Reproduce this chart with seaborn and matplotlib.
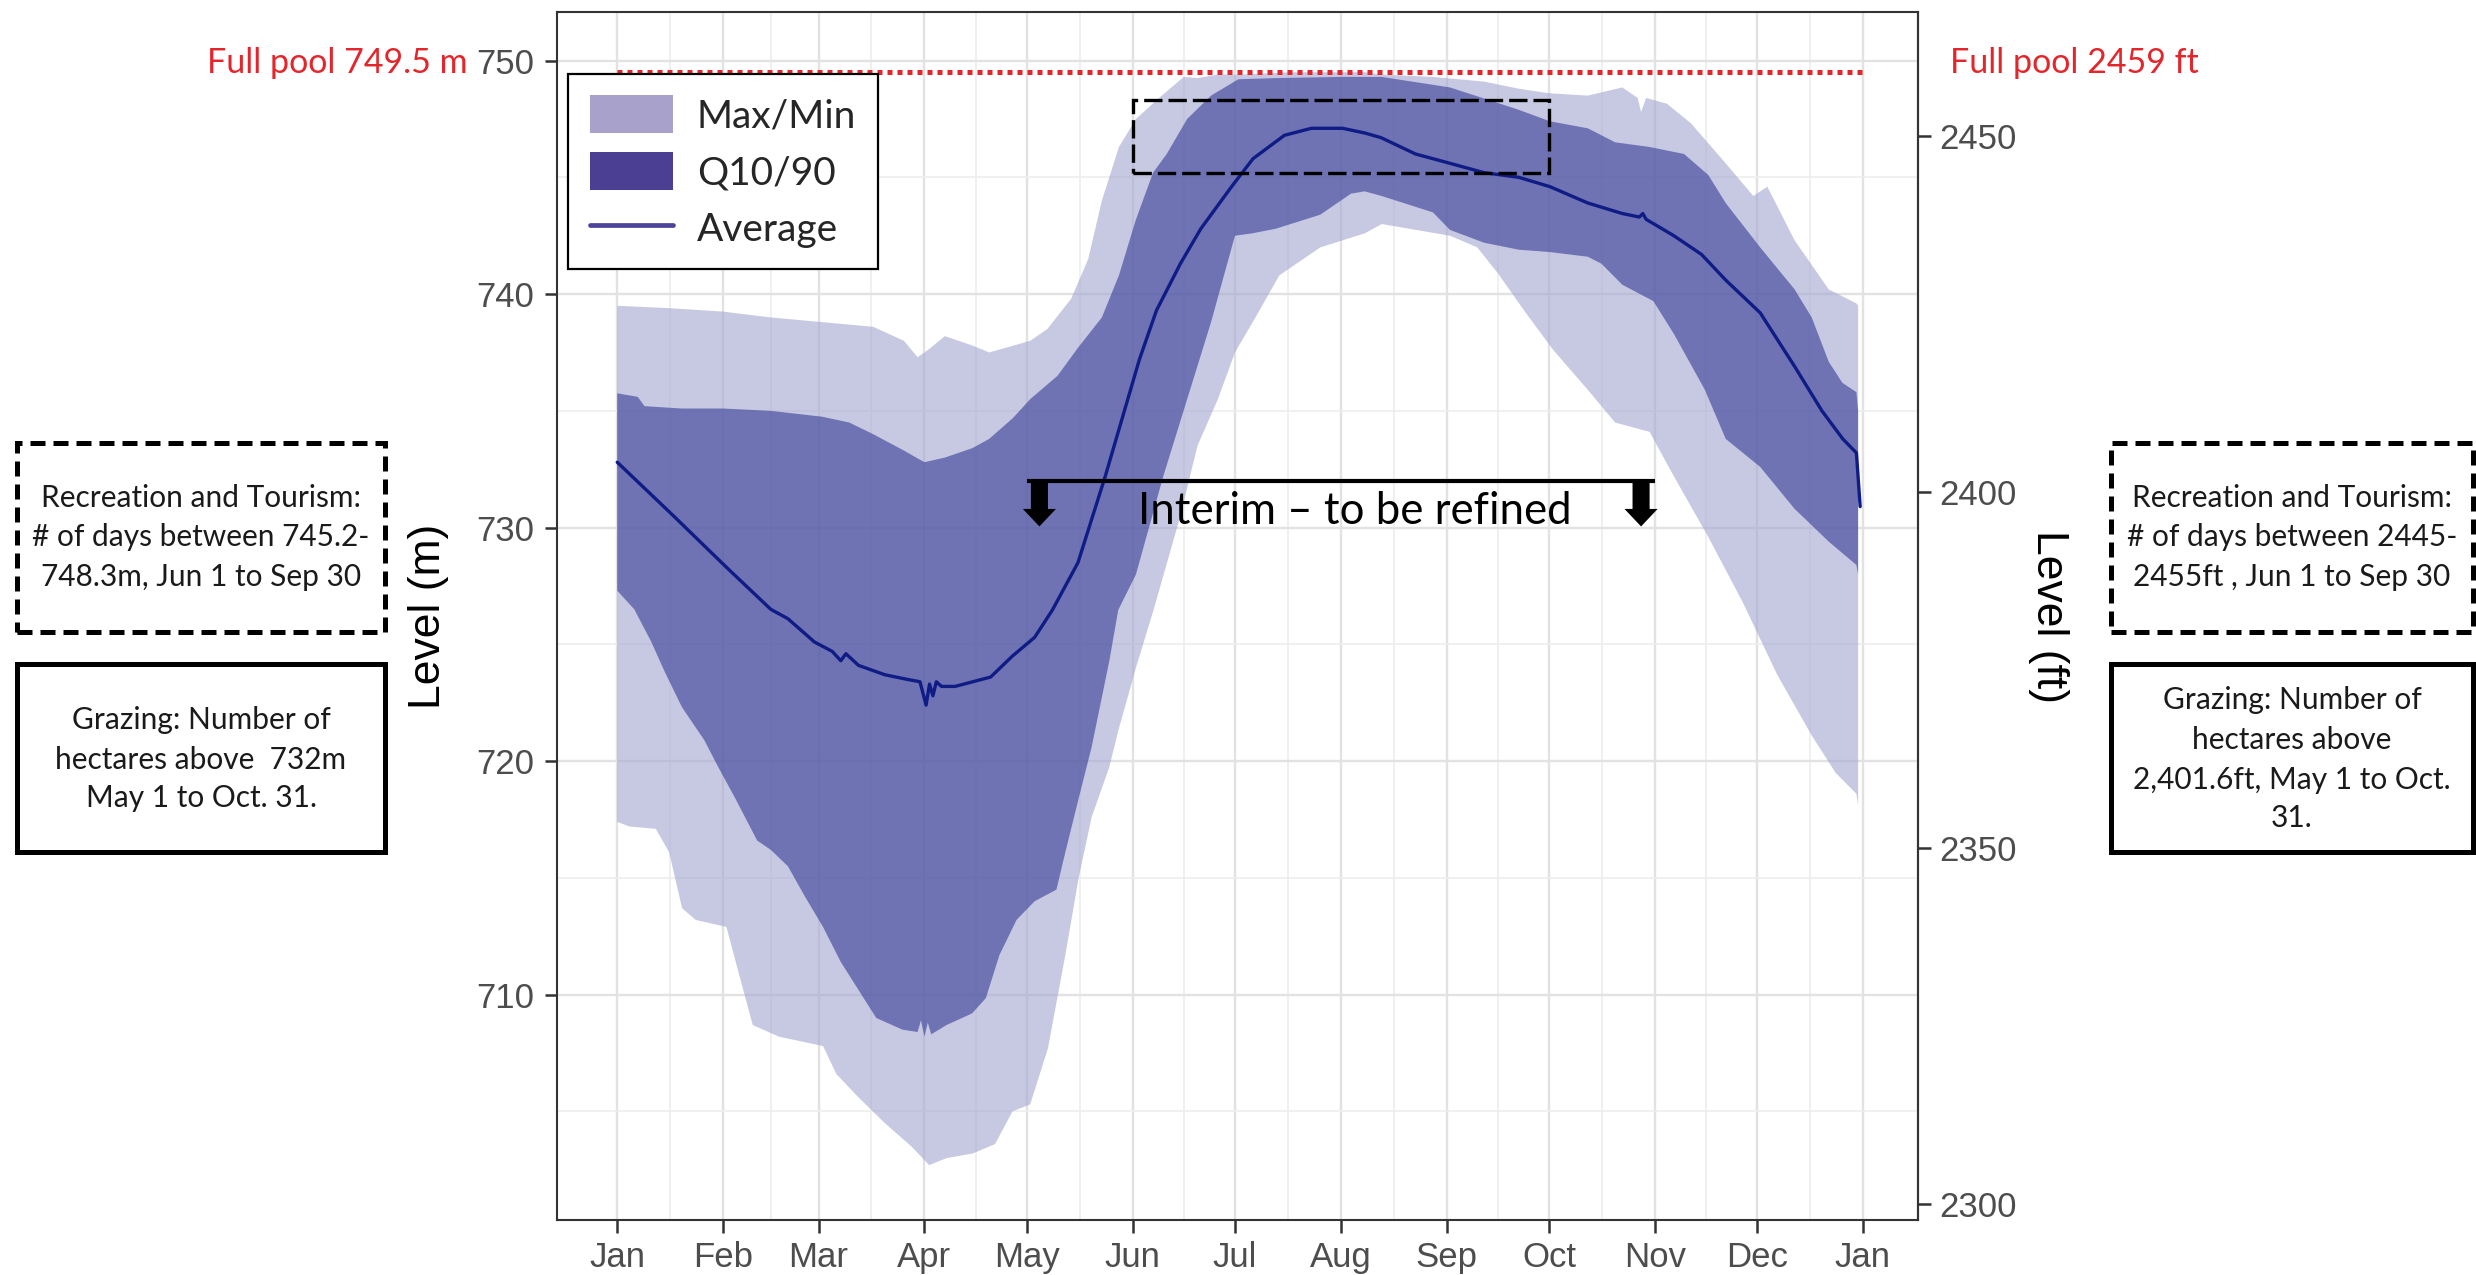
import numpy as np
import matplotlib
matplotlib.use("Agg")
import matplotlib.pyplot as plt
import seaborn as sns
from matplotlib.patches import Patch, Rectangle, FancyArrow
from matplotlib.lines import Line2D

# ---------------- data (day of year, level in metres) ----------------
max_days = [0, 15, 31, 45, 60, 75, 84, 88, 91, 96, 104, 109, 121, 126, 133, 138,
            142, 147, 152, 158, 166, 170, 176, 183, 197, 219, 224, 239, 254, 264,
            273, 284.4, 294.5, 299, 300, 301.5, 307.6, 314.7, 324.8, 332.9, 337,
            345, 355, 363.1, 363.6]
max_level = [739.5, 739.4, 739.25, 739.0, 738.8, 738.6, 738.0, 737.3, 737.6, 738.2,
             737.8, 737.5, 738.0, 738.5, 739.8, 741.5, 744.0, 746.3, 747.5, 748.3,
             749.3, 749.25, 749.4, 749.4, 749.5, 749.5, 749.4, 749.3, 749.1, 748.8,
             748.6, 748.5, 748.85, 748.4, 747.8, 748.4, 748.15, 747.3, 745.6, 744.2,
             744.6, 742.3, 740.2, 739.6, 739.5]

min_days = [0, 3.6, 11.3, 15.2, 19, 23, 32, 36, 39.7, 47.4, 60.3, 64.2, 70.7, 78.4,
            86.2, 91.4, 96.5, 104.2, 110.7, 115.8, 121, 126.2, 131.3, 135.2, 139,
            144.2, 146.8, 152, 157.2, 165, 170, 176, 181, 187, 194, 206, 219, 224,
            244, 252, 258, 266.2, 274.3, 284.4, 292.4, 302.5, 309.6, 319.7, 329.8,
            339.9, 350, 357, 363.1, 363.6]
min_level = [717.4, 717.2, 717.1, 716.1, 713.7, 713.2, 712.9, 710.7, 708.7, 708.2,
             707.8, 706.6, 705.6, 704.5, 703.5, 702.7, 703.0, 703.2, 703.6, 705.0,
             705.3, 707.7, 711.7, 715.0, 717.6, 719.75, 721.3, 724.0, 726.5, 730.5,
             733.5, 735.5, 737.5, 739.0, 740.8, 742.0, 742.6, 743.0, 742.5, 742.0,
             740.9, 739.2, 737.6, 735.9, 734.5, 734.1, 732.2, 729.6, 726.8, 723.7,
             721.1, 719.5, 718.6, 718.1]

q90_days = [0, 6, 8, 19, 31, 45, 60, 68, 75, 84, 90, 96, 104, 109, 116, 121, 129,
            135, 142, 147, 152, 157, 161, 167, 174, 182, 193, 212, 224, 244, 264,
            273.3, 284.4, 292.4, 302.5, 312.6, 319.7, 324.8, 334.9, 345, 350, 355,
            359, 363.1, 363.6]
q90_level = [735.75, 735.6, 735.2, 735.1, 735.1, 735.0, 734.75, 734.5, 734.0, 733.3,
             732.8, 733.0, 733.4, 733.8, 734.7, 735.5, 736.5, 737.7, 739.0, 740.8,
             743.2, 745.2, 746.0, 747.5, 748.5, 749.2, 749.25, 749.3, 749.3, 748.85,
             747.9, 747.4, 747.1, 746.5, 746.3, 746.0, 745.1, 743.9, 742.0, 740.2,
             739.0, 737.1, 736.2, 735.8, 735.0]

q10_days = [0, 5, 10, 14, 19, 25.5, 29.4, 34.6, 41, 45, 50, 55, 60.3, 65.5, 70.7,
            75.9, 83.6, 88, 89, 90, 91, 92, 96.5, 104, 108, 112, 117, 122.3, 128.7,
            131.3, 135.2, 139, 144.2, 146.8, 152, 160, 167, 174, 181, 186, 193, 206,
            215, 219, 224, 239, 244, 254, 264.2, 273.3, 284.4, 288.4, 294.5, 303.6,
            309.6, 318.7, 324.8, 334.9, 345, 355, 363.1, 363.6]
q10_level = [727.3, 726.5, 725.1, 723.8, 722.3, 720.9, 719.8, 718.4, 716.6, 716.2,
             715.5, 714.2, 712.9, 711.4, 710.2, 709.0, 708.5, 708.4, 708.9, 708.2,
             708.8, 708.3, 708.7, 709.2, 709.85, 711.7, 713.2, 714.0, 714.5, 716.1,
             718.4, 720.6, 724.3, 726.47, 728.0, 732.2, 735.5, 738.8, 742.5, 742.6,
             742.8, 743.4, 744.3, 744.4, 744.2, 743.5, 742.75, 742.2, 741.9, 741.8,
             741.6, 741.3, 740.4, 739.7, 738.3, 735.9, 733.8, 732.6, 730.8, 729.4,
             728.4, 728.0]

avg_days = [0, 16.5, 32, 45, 50, 57.8, 63, 65.5, 67, 70.7, 78.4, 85, 88.7, 90.5,
            91.5, 92.5, 93.5, 95, 99, 109.4, 115.8, 122.3, 127.5, 135, 143, 148, 153,
            158, 165, 171, 180, 186.3, 195.5, 203.4, 212.5, 219, 223.8, 233.9, 244,
            254, 264.2, 273.3, 284.4, 294.5, 299.5, 300.5, 301.5, 309.6, 317.7,
            324.8, 334.9, 345, 353, 359.1, 363.1, 364.2]
avg_level = [732.8, 730.5, 728.3, 726.5, 726.1, 725.1, 724.7, 724.3, 724.6, 724.1,
             723.7, 723.5, 723.4, 722.4, 723.3, 722.8, 723.4, 723.2, 723.2, 723.6,
             724.5, 725.3, 726.47, 728.5, 732.2, 734.7, 737.2, 739.3, 741.3, 742.8,
             744.6, 745.8, 746.8, 747.1, 747.1, 746.9, 746.7, 746.0, 745.6, 745.2,
             745.0, 744.6, 743.9, 743.45, 743.3, 743.45, 743.2, 742.5, 741.7, 740.6,
             739.2, 736.9, 735.0, 733.8, 733.2, 730.9]

month_labels = ["Jan", "Feb", "Mar", "Apr", "May", "Jun", "Jul", "Aug", "Sep",
                "Oct", "Nov", "Dec", "Jan"]
month_start = [0, 31, 59, 90, 120, 151, 181, 212, 243, 273, 304, 334, 365]
m_ticks = [710, 720, 730, 740, 750]
ft_ticks = [2300, 2350, 2400, 2450]

full_pool_m = 749.5
full_pool_ft = 2459
rec_low_m, rec_high_m = 745.2, 748.3          # recreation band
rec_start_day, rec_end_day = 151, 273         # Jun 1 .. Sep 30
graze_level_m = 732                           # grazing threshold
graze_start_day, graze_end_day = 120, 304     # May 1 .. Oct 31

# ---------------- style ----------------
sns.set_theme(style="whitegrid")
plt.rcParams["font.family"] = ["Liberation Sans", "DejaVu Sans"]
ANNOT_FONT = ["Lato", "DejaVu Sans"]

W, H = 2476, 1275
fig = plt.figure(figsize=(W / 100, H / 100), dpi=100)
fig.patch.set_facecolor("white")


def fx(px):
    return px / W


def fy(py):
    return 1 - py / H


ax = fig.add_axes([fx(556.5), fy(1220), fx(1917.5) - fx(556.5), fy(12) - fy(1220)])
ax.set_facecolor("white")

LIGHT = "#A3A5CF"
DARK = "#343B95"
AVG = "#101C85"

# ribbons: Max/Min then Q10/90
ax.fill(np.r_[max_days, min_days[::-1]], np.r_[max_level, min_level[::-1]],
        color=LIGHT, alpha=0.6, lw=0, zorder=2)
ax.fill(np.r_[q90_days, q10_days[::-1]], np.r_[q90_level, q10_level[::-1]],
        color=DARK, alpha=0.6, lw=0, zorder=3)

# average line
sns.lineplot(x=avg_days, y=avg_level, ax=ax, color=AVG, lw=2.4, zorder=4,
             estimator=None, sort=False)

# full pool
ax.plot([month_start[0], month_start[-1]], [full_pool_m, full_pool_m],
        color="#E3262B", lw=3.6, ls=(0, (1, 1)), zorder=5, dash_capstyle="butt")

# recreation band box
ax.add_patch(Rectangle((rec_start_day, rec_low_m), rec_end_day - rec_start_day,
                       rec_high_m - rec_low_m, fill=False, ec="black", lw=2.4,
                       ls=(0, (5.5, 1.8)), zorder=6))

# grazing / interim bracket
ax.plot([graze_start_day, graze_end_day], [graze_level_m, graze_level_m],
        color="black", lw=3.0, zorder=6, solid_capstyle="butt")
for d in (graze_start_day + 3.7, graze_end_day - 4.0):
    ax.add_patch(FancyArrow(d, graze_level_m, 0, -1.95, width=5.0,
                            head_width=9.7, head_length=0.75,
                            length_includes_head=True, color="black", lw=0,
                            zorder=7))
ax.text(216, 730.7, "Interim \u2013 to be refined", ha="center", va="center",
        fontsize=31.5, family=ANNOT_FONT, color="black", zorder=8)

# axes, ticks, grid
ax.set_xlim(-17.8, 381)
ax.set_ylim(700.35, 752.08)
ax.set_xticks(month_start)
ax.set_xticklabels(month_labels)
mid = [(a + b) / 2 for a, b in zip(month_start[:-1], month_start[1:])]
ax.set_xticks(mid, minor=True)
ax.set_yticks(m_ticks)
ax.set_yticks([705, 715, 725, 735, 745], minor=True)
ax.grid(which="major", color="#E2E2E2", lw=1.7, zorder=0)
ax.grid(which="minor", color="#EDEDED", lw=1.2, zorder=0)
ax.set_axisbelow(True)
for s in ax.spines.values():
    s.set_visible(True)
    s.set_color("#333333")
    s.set_linewidth(1.5)
ax.tick_params(axis="both", which="major", direction="out", length=9, width=1.8,
               color="#333333", labelcolor="#4D4D4D", labelsize=25)
ax.tick_params(axis="y", which="major", pad=7, left=True)
ax.tick_params(axis="x", which="major", pad=6, bottom=True)
ax.tick_params(which="minor", length=0)
ax.set_xlabel("")
ax.set_ylabel("Level (m)", fontsize=32, color="black", va="center")
ax.yaxis.set_label_coords(-0.0937, 0.5)

sec = ax.secondary_yaxis("right", functions=(lambda m: m / 0.3048,
                                             lambda f: f * 0.3048))
sec.set_yticks(ft_ticks)
sec.tick_params(direction="out", length=9, width=1.8, color="#333333",
                labelcolor="#4D4D4D", labelsize=25, pad=7)
sec.spines["right"].set_color("#333333")
sec.spines["right"].set_linewidth(1.5)
fig.text(fx(2048), fy(617), "Level (ft)", fontsize=32, color="black",
         rotation=270, va="center", ha="center")

# legend
handles = [Patch(facecolor="#A7A1CB", edgecolor="none"),
           Patch(facecolor="#4B3F94", edgecolor="none"),
           Line2D([0], [0], color="#4C4499", lw=3.4)]
leg = ax.legend(handles, ["Max/Min", "Q10/90", "Average"], loc="upper left",
                bbox_to_anchor=(0.0088, 0.9487), borderaxespad=0, frameon=True,
                fancybox=False, edgecolor="black", framealpha=1,
                prop={"family": ANNOT_FONT, "size": 28}, handlelength=2.15,
                handleheight=1.13, handletextpad=0.6, labelspacing=0.45,
                borderpad=0.55)
leg.get_frame().set_linewidth(1.6)
leg.set_zorder(10)

# full pool labels
RED = "#E3262B"
fig.text(fx(468), fy(63), f"Full pool {full_pool_m} m", ha="right", va="center",
         fontsize=24.5, color=RED, family=ANNOT_FONT)
fig.text(fx(1950), fy(63), f"Full pool {full_pool_ft} ft", ha="left", va="center",
         fontsize=24.5, color=RED, family=ANNOT_FONT)


# side boxes
def side_box(x0, x1, y0, y1, lines, ys, dashed):
    ls = (0, (3, 1.6)) if dashed else "-"
    fig.add_artist(Rectangle((fx(x0), fy(y1)), fx(x1) - fx(x0), fy(y0) - fy(y1),
                             transform=fig.transFigure, fill=False, ec="black",
                             lw=3.6, ls=ls))
    cx = (x0 + x1) / 2
    for t, y in zip(lines, ys):
        fig.text(fx(cx), fy(y), t, ha="center", va="center", fontsize=21.5,
                 color="#1A1A1A", family=ANNOT_FONT)


side_box(17, 385, 443, 632,
         ["Recreation and Tourism:", "# of days between 745.2-",
          "748.3m, Jun 1 to Sep 30"], [498, 537, 577], True)
side_box(17, 385, 664, 852,
         ["Grazing: Number of", "hectares above  732m", "May 1 to Oct. 31."],
         [720, 760, 798], False)
side_box(2111, 2473, 443, 632,
         ["Recreation and Tourism:", "# of days between 2445-",
          "2455ft , Jun 1 to Sep 30"], [498, 537, 577], True)
side_box(2111, 2473, 664, 852,
         ["Grazing: Number of", "hectares above", "2,401.6ft, May 1 to Oct.",
          "31."], [700, 740, 780, 818], False)

fig.savefig("out.png", dpi=100, facecolor="white")
